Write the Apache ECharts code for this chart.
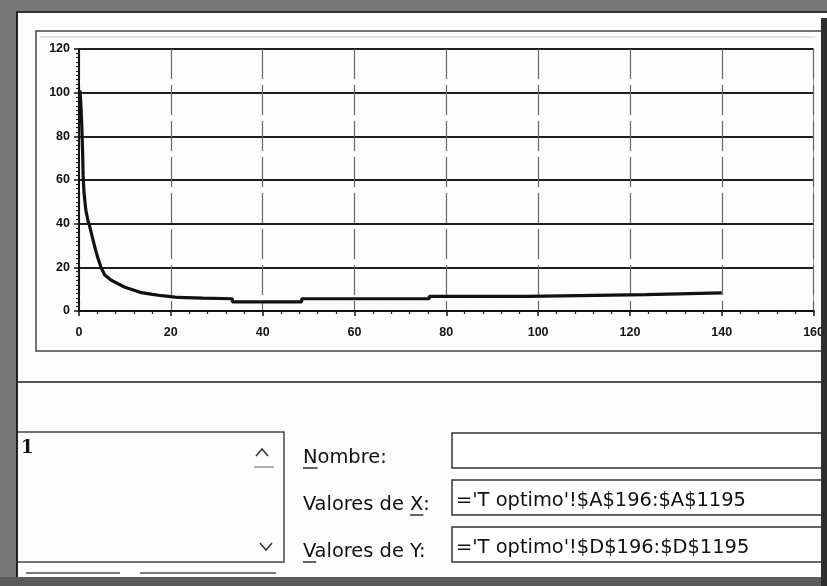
<!DOCTYPE html>
<html>
<head>
<meta charset="utf-8">
<script src="https://cdn.jsdelivr.net/npm/echarts@6/dist/echarts.min.js"></script>
<style>
  html, body { margin: 0; padding: 0; background: #fdfdfd; }
  #chart { width: 827px; height: 586px; }
</style>
</head>
<body>
<div id="chart"></div>
<script>
// Series values (x = time, y = cost), from 'T optimo' sheet
const xValues = [0.2, 0.4, 0.6, 0.8, 0.9, 1.1, 1.5, 2.0, 2.3, 3.0, 3.6, 4.2, 4.8, 5.6, 7.1, 8.5, 10.0, 12.0, 13.6, 16.0, 18.0, 20.0, 21.5, 27.0, 33.4, 33.4, 48.5, 48.5, 76.3, 76.3, 97.7, 97.7, 123.4, 123.4, 140.0];
const yValues = [101, 95, 85, 72, 62, 54, 46, 41, 39, 33, 28, 23.7, 20, 16.5, 14, 12.5, 10.9, 9.5, 8.4, 7.6, 7.0, 6.6, 6.2, 5.9, 5.6, 4.2, 4.2, 5.6, 5.6, 6.7, 6.7, 7.5, 7.5, 8.3, 8.3];

// Axis settings
const xTicks = { min: 0, max: 160, step: 20 };
const yTicks = { min: 0, max: 120, step: 20 };

// Dialog texts
const seriesList = ['1'];
const fieldLabels = ['Nombre:', 'Valores de X:', 'Valores de Y:'];
const fieldValues = ['', "='T optimo'!$A$196:$A$1195", "='T optimo'!$D$196:$D$1195"];
// index of the access-key letter in each label
const accessKeys = [0, 11, 0];

const uiFont = '"DejaVu Sans Condensed", "Liberation Sans Narrow", "DejaVu Sans", sans-serif';
const uiSize = 20;
const uiScaleX = 1.08;
const chart = echarts.init(document.getElementById('chart'), null, { renderer: 'canvas' });

const seriesData = xValues.map((x, i) => [x, yValues[i]]);

// text measuring for the access-key underlines
const measureCtx = document.createElement('canvas').getContext('2d');
measureCtx.font = uiSize + 'px ' + uiFont;
const textWidth = (s) => measureCtx.measureText(s).width * uiScaleX;

const fieldTops = [433, 480, 527];
const labelLeft = 303;
const graphics = [];

// chart frame
graphics.push({ type: 'rect', z: 1, shape: { x: 36, y: 31, width: 790, height: 320 },
  style: { fill: 'none', stroke: '#444', lineWidth: 1.5 } });
graphics.push({ type: 'line', z: 1, shape: { x1: 40, y1: 37, x2: 815, y2: 37 },
  style: { stroke: '#c8c8c8', lineWidth: 1 } });

// separator
graphics.push({ type: 'line', z: 50, shape: { x1: 17, y1: 382, x2: 822, y2: 382 },
  style: { stroke: '#555', lineWidth: 2 } });

// series list box
graphics.push({ type: 'polyline', z: 50, shape: { points: [[17, 432], [284, 432], [284, 562], [17, 562]] },
  style: { fill: 'none', stroke: '#444', lineWidth: 1.5 } });
graphics.push({ type: 'line', z: 50, shape: { x1: 26, y1: 573, x2: 120, y2: 573 }, style: { stroke: '#777', lineWidth: 2 } });
graphics.push({ type: 'line', z: 50, shape: { x1: 140, y1: 573, x2: 276, y2: 573 }, style: { stroke: '#777', lineWidth: 2 } });
seriesList.forEach((s, i) => {
  graphics.push({ type: 'text', z: 50, style: { x: 21, y: 448 + i * 18, text: s, fill: '#111',
    font: 'bold 18px "DejaVu Serif", serif', verticalAlign: 'middle' } });
});
// scroll arrows
graphics.push({ type: 'polyline', z: 50, shape: { points: [[256, 456], [262, 449], [268, 456]] },
  style: { fill: 'none', stroke: '#333', lineWidth: 1.5 } });
graphics.push({ type: 'line', z: 50, shape: { x1: 254, y1: 467, x2: 274, y2: 467 }, style: { stroke: '#999', lineWidth: 1.5 } });
graphics.push({ type: 'polyline', z: 50, shape: { points: [[260, 543], [266, 550], [272, 543]] },
  style: { fill: 'none', stroke: '#333', lineWidth: 1.5 } });

// field labels and input boxes
fieldLabels.forEach((lab, i) => {
  const top = fieldTops[i];
  const cy = top + 25;
  graphics.push({ type: 'text', z: 50, x: labelLeft, y: cy, scaleX: uiScaleX,
    style: { x: 0, y: 0, text: lab, fill: '#111', font: uiSize + 'px ' + uiFont, verticalAlign: 'middle' } });
  graphics.push({ type: 'rect', z: 50, shape: { x: 452, y: top, width: 380, height: 35 },
    style: { fill: '#fff', stroke: '#333', lineWidth: 1.5 } });
  if (fieldValues[i]) {
    graphics.push({ type: 'text', z: 51, x: 456, y: top + 21, scaleX: uiScaleX,
      style: { x: 0, y: 0, text: fieldValues[i], fill: '#111', font: uiSize + 'px ' + uiFont, verticalAlign: 'middle' } });
  }
  // access-key underline
  const k = accessKeys[i];
  const ux = labelLeft + textWidth(lab.slice(0, k));
  const uw = textWidth(lab.charAt(k));
  graphics.push({ type: 'line', z: 51, shape: { x1: ux, y1: cy + 10, x2: ux + uw, y2: cy + 10 },
    style: { stroke: '#111', lineWidth: 1.3 } });
});

// outer window border
const frameFill = '#767676';
graphics.push({ type: 'rect', z: 90, shape: { x: 0, y: 0, width: 827, height: 11 }, style: { fill: frameFill } });
graphics.push({ type: 'rect', z: 90, shape: { x: 0, y: 0, width: 16, height: 586 }, style: { fill: frameFill } });
graphics.push({ type: 'rect', z: 90, shape: { x: 0, y: 577, width: 827, height: 9 }, style: { fill: '#5a5a5a' } });
graphics.push({ type: 'rect', z: 90, shape: { x: 821, y: 18, width: 6, height: 568 }, style: { fill: '#2e2e2e' } });
graphics.push({ type: 'line', z: 91, shape: { x1: 16, y1: 12, x2: 827, y2: 12 }, style: { stroke: '#333', lineWidth: 2 } });
graphics.push({ type: 'line', z: 91, shape: { x1: 17, y1: 12, x2: 17, y2: 577 }, style: { stroke: '#222', lineWidth: 2 } });

const labelStyle = { color: '#111', fontWeight: 'bold', fontSize: 12.5, fontFamily: '"Liberation Sans", Arial, sans-serif' };

chart.setOption({
  animation: false,
  backgroundColor: '#fdfdfd',
  grid: { left: 79, right: 12, top: 49, bottom: 275, show: true, borderColor: '#888', borderWidth: 1, backgroundColor: 'transparent' },
  xAxis: {
    type: 'value', min: xTicks.min, max: xTicks.max, interval: xTicks.step,
    axisLine: { show: true, onZero: false, lineStyle: { color: '#111', width: 2 } },
    axisTick: { show: true, length: 5, lineStyle: { color: '#111', width: 1.5 } },
    minorTick: { show: true, splitNumber: 5, length: 3, lineStyle: { color: '#222', width: 1.2 } },
    splitLine: { show: true, lineStyle: { color: '#666', width: 1.2, type: [30, 6] } },
    axisLabel: Object.assign({ margin: 15 }, labelStyle)
  },
  yAxis: {
    type: 'value', min: yTicks.min, max: yTicks.max, interval: yTicks.step,
    axisLine: { show: true, lineStyle: { color: '#111', width: 2 } },
    axisTick: { show: true, length: 5, lineStyle: { color: '#111', width: 1.5 } },
    minorTick: { show: true, splitNumber: 10, length: 3, lineStyle: { color: '#222', width: 1.2 } },
    splitLine: { show: true, lineStyle: { color: '#1e1e1e', width: 2 } },
    axisLabel: Object.assign({ margin: 9 }, labelStyle)
  },
  series: [{
    type: 'line',
    data: seriesData,
    showSymbol: false,
    symbol: 'none',
    lineStyle: { color: '#111', width: 3.2 },
    z: 5
  }],
  graphic: { elements: graphics }
});
</script>
</body>
</html>
